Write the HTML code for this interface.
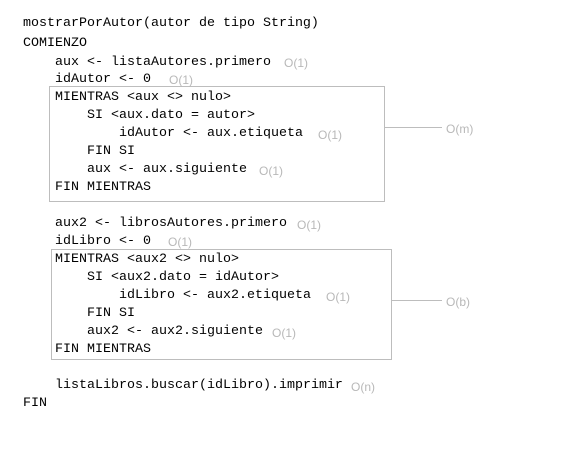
<!DOCTYPE html><html><head><style>
body{margin:0;width:587px;height:468px;background:#fff;position:relative;overflow:hidden}
.t{position:absolute;font-family:"Liberation Mono",monospace;font-size:13.33px;line-height:18px;color:#000;white-space:pre;margin-top:2px}
.o{position:absolute;font-family:"Liberation Sans",sans-serif;font-size:12px;line-height:18px;color:#b8b8b8;white-space:pre;margin-top:2px}
.b{position:absolute;border:1px solid #bdbdbd}
.l{position:absolute;height:1px;background:#bdbdbd}
</style></head><body>
<div class="b" style="left:49px;top:86px;width:334px;height:114px"></div>
<div class="b" style="left:51px;top:249px;width:339px;height:109px"></div>
<div class="l" style="left:384px;top:127px;width:58px"></div>
<div class="l" style="left:391px;top:300px;width:51px"></div>
<div class="o" style="left:446px;top:118px">O(m)</div>
<div class="o" style="left:446px;top:291px">O(b)</div>

<div class="t" style="left:23px;top:13px">mostrarPorAutor(autor de tipo String)</div>
<div class="t" style="left:23px;top:33px">COMIENZO</div>
<div class="t" style="left:55px;top:52px">aux &lt;- listaAutores.primero</div><div class="o" style="left:284px;top:52px">O(1)</div>
<div class="t" style="left:55px;top:69px">idAutor &lt;- 0</div><div class="o" style="left:169px;top:69px">O(1)</div>
<div class="t" style="left:55px;top:87px">MIENTRAS &lt;aux &lt;&gt; nulo&gt;</div>
<div class="t" style="left:87px;top:105px">SI &lt;aux.dato = autor&gt;</div>
<div class="t" style="left:119px;top:123px">idAutor &lt;- aux.etiqueta</div><div class="o" style="left:318px;top:124px">O(1)</div>
<div class="t" style="left:87px;top:141px">FIN SI</div>
<div class="t" style="left:87px;top:159px">aux &lt;- aux.siguiente</div><div class="o" style="left:259px;top:160px">O(1)</div>
<div class="t" style="left:55px;top:177px">FIN MIENTRAS</div>

<div class="t" style="left:55px;top:213px">aux2 &lt;- librosAutores.primero</div><div class="o" style="left:297px;top:214px">O(1)</div>
<div class="t" style="left:55px;top:231px">idLibro &lt;- 0</div><div class="o" style="left:168px;top:231px">O(1)</div>
<div class="t" style="left:55px;top:249px">MIENTRAS &lt;aux2 &lt;&gt; nulo&gt;</div>
<div class="t" style="left:87px;top:267px">SI &lt;aux2.dato = idAutor&gt;</div>
<div class="t" style="left:119px;top:285px">idLibro &lt;- aux2.etiqueta</div><div class="o" style="left:326px;top:286px">O(1)</div>
<div class="t" style="left:87px;top:303px">FIN SI</div>
<div class="t" style="left:87px;top:321px">aux2 &lt;- aux2.siguiente</div><div class="o" style="left:272px;top:322px">O(1)</div>
<div class="t" style="left:55px;top:339px">FIN MIENTRAS</div>

<div class="t" style="left:55px;top:375px">listaLibros.buscar(idLibro).imprimir</div><div class="o" style="left:351px;top:376px">O(n)</div>
<div class="t" style="left:23px;top:393px">FIN</div>
</body></html>
